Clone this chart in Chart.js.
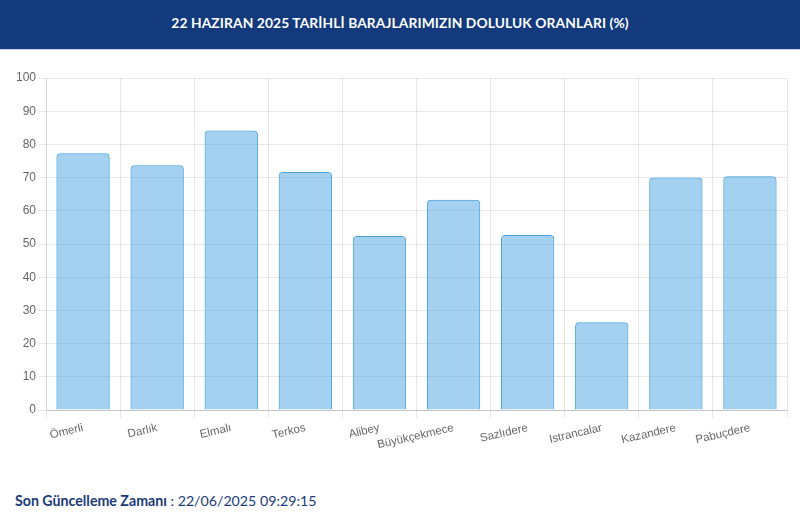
<!DOCTYPE html>
<html lang="tr">
<head>
<meta charset="utf-8">
<script src="https://cdn.jsdelivr.net/npm/chart.js@4.4.0/dist/chart.umd.min.js"></script>
<style>
  html, body { margin: 0; padding: 0; width: 800px; height: 528px; background: #fff; overflow: hidden; }
  #banner { position: absolute; left: 0; top: 0; width: 800px; height: 49px; background: #133A7C;
    border-bottom: 1px solid #c9d3e3; color: #fff; font-family: Lato, "Open Sans", sans-serif;
    font-weight: 700; font-size: 13.8px; text-align: center; line-height: 46px; letter-spacing: 0.1px; }
  #wrap { position: absolute; left: 0; top: 55px; width: 800px; height: 400px; }
  #footer { position: absolute; left: 15px; top: 492px; font-family: Lato, "Open Sans", sans-serif;
    font-size: 14.2px; color: #1B3A7A; white-space: nowrap; }
  #footer b { font-weight: 700; }
</style>
</head>
<body>
<div id="banner">22 HAZIRAN 2025 TARİHLİ BARAJLARIMIZIN DOLULUK ORANLARI (%)</div>
<div id="wrap"><canvas id="c"></canvas></div>
<div id="footer"><b>Son Güncelleme Zamanı</b> : 22/06/2025 09:29:15</div>
<script>
const categories = ["Ömerli", "Darlık", "Elmalı", "Terkos", "Alibey", "Büyükçekmece", "Sazlıdere", "Istrancalar", "Kazandere", "Pabuçdere"];
const fillRates = [77.3, 73.7, 84.2, 71.7, 52.4, 63.3, 52.7, 26.4, 70.0, 70.4];
const yTicks = [0, 10, 20, 30, 40, 50, 60, 70, 80, 90, 100];

new Chart(document.getElementById('c'), {
  type: 'bar',
  data: {
    labels: categories,
    datasets: [{
      data: fillRates,
      backgroundColor: 'rgba(52,152,219,0.45)',
      borderColor: 'rgba(52,152,219,0.9)',
      borderWidth: 1,
      borderRadius: 4,
      barPercentage: 0.9,
      categoryPercentage: 0.8
    }]
  },
  options: {
    responsive: true,
    maintainAspectRatio: false,
    animation: false,
    layout: { padding: { left: 14, right: 13, top: 23, bottom: 0 } },
    plugins: { legend: { display: false }, tooltip: { enabled: false } },
    scales: {
      x: {
        grid: {
          color: (ctx) => ctx.index === categories.length ? 'rgba(0,0,0,0)' : 'rgba(0,0,0,0.09)',
          tickLength: 8
        },
        border: { color: 'rgba(0,0,0,0.15)' },
        ticks: {
          color: '#666',
          font: { family: '"Liberation Sans", Arial, sans-serif', size: 11.5 },
          minRotation: 13,
          maxRotation: 13,
          autoSkip: false
        }
      },
      y: {
        min: 0,
        max: 100,
        afterBuildTicks: (axis) => { axis.ticks = yTicks.map(v => ({ value: v })); },
        grid: { color: 'rgba(0,0,0,0.09)', tickLength: 8 },
        border: { color: 'rgba(0,0,0,0.09)' },
        ticks: {
          color: '#666',
          padding: 2,
          font: { family: '"Liberation Sans", Arial, sans-serif', size: 12 }
        }
      }
    }
  }
});
</script>
</body>
</html>
